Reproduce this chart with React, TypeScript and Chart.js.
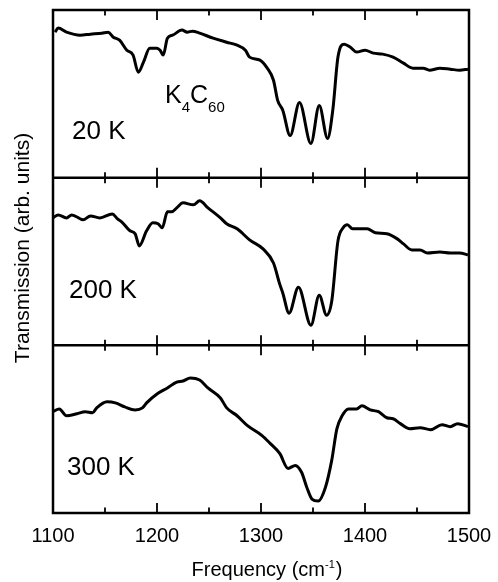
import React, { useEffect, useRef } from "react";
import { Chart, registerables } from "chart.js";

Chart.register(...registerables);

// ---- Data (frequency in cm^-1, transmission in arb. units, panel-local 0..1) ----
const FREQ_20K = [1102, 1105, 1113, 1126, 1136, 1147, 1153, 1158, 1164, 1171, 1177, 1182, 1187, 1193, 1200, 1203, 1206, 1210, 1215, 1224, 1229, 1234, 1241, 1254, 1267, 1277, 1285, 1289, 1299, 1306, 1312, 1316, 1321, 1328, 1337, 1348, 1356, 1364, 1369, 1374, 1380, 1386, 1392, 1400, 1408, 1417, 1427, 1437, 1446, 1456, 1462, 1472, 1482, 1491, 1499];
const T_20K = [0.868, 0.892, 0.868, 0.85, 0.856, 0.862, 0.868, 0.838, 0.82, 0.76, 0.731, 0.629, 0.689, 0.772, 0.772, 0.76, 0.731, 0.832, 0.85, 0.88, 0.868, 0.874, 0.862, 0.832, 0.808, 0.79, 0.76, 0.719, 0.701, 0.653, 0.581, 0.461, 0.401, 0.251, 0.449, 0.204, 0.431, 0.234, 0.401, 0.719, 0.796, 0.778, 0.749, 0.76, 0.743, 0.737, 0.719, 0.683, 0.653, 0.653, 0.641, 0.653, 0.647, 0.641, 0.647];

const FREQ_200K = [1100, 1105, 1113, 1118, 1129, 1136, 1145, 1157, 1162, 1166, 1174, 1179, 1183, 1190, 1196, 1201, 1205, 1210, 1214, 1219, 1225, 1235, 1241, 1249, 1261, 1267, 1277, 1289, 1302, 1312, 1318, 1321, 1327, 1336, 1348, 1356, 1363, 1368, 1374, 1379, 1383, 1388, 1402, 1410, 1421, 1431, 1437, 1445, 1453, 1460, 1472, 1482, 1491, 1499];
const T_200K = [0.76, 0.778, 0.76, 0.778, 0.749, 0.772, 0.76, 0.784, 0.754, 0.737, 0.683, 0.665, 0.593, 0.683, 0.731, 0.725, 0.701, 0.796, 0.796, 0.82, 0.85, 0.838, 0.862, 0.82, 0.76, 0.725, 0.695, 0.629, 0.575, 0.491, 0.365, 0.311, 0.192, 0.347, 0.12, 0.299, 0.18, 0.263, 0.623, 0.701, 0.719, 0.695, 0.695, 0.671, 0.665, 0.635, 0.605, 0.569, 0.569, 0.551, 0.557, 0.551, 0.551, 0.539];

const FREQ_300K = [1100, 1106, 1113, 1123, 1131, 1138, 1142, 1152, 1160, 1169, 1179, 1186, 1190, 1200, 1210, 1219, 1225, 1232, 1241, 1249, 1261, 1267, 1277, 1287, 1301, 1309, 1318, 1326, 1333, 1339, 1344, 1349, 1355, 1362, 1368, 1373, 1378, 1384, 1392, 1397, 1405, 1413, 1421, 1427, 1434, 1443, 1453, 1463, 1474, 1482, 1489, 1499];
const T_300K = [0.604, 0.621, 0.58, 0.592, 0.604, 0.598, 0.627, 0.663, 0.657, 0.633, 0.615, 0.627, 0.657, 0.71, 0.746, 0.781, 0.787, 0.805, 0.793, 0.746, 0.686, 0.627, 0.58, 0.521, 0.462, 0.414, 0.355, 0.266, 0.284, 0.243, 0.154, 0.083, 0.071, 0.154, 0.314, 0.503, 0.58, 0.621, 0.621, 0.639, 0.615, 0.604, 0.568, 0.562, 0.533, 0.503, 0.509, 0.497, 0.527, 0.515, 0.533, 0.515];

const X_TICKS = [1100, 1200, 1300, 1400, 1500];
const PANEL_LABELS = ["20 K", "200 K", "300 K"];
const X_TITLE = "Frequency (cm";
const X_TITLE_SUP = "-1";
const Y_TITLE = "Transmission (arb. units)";

const FONT = "'Liberation Sans', Arial, Helvetica, sans-serif";

const PANELS = [
  { freq: FREQ_20K, t: T_20K },
  { freq: FREQ_200K, t: T_200K },
  { freq: FREQ_300K, t: T_300K },
];

const framePlugin = {
  id: "panelFrame",
  afterDraw(chart: any) {
    const { ctx, chartArea } = chart;
    const xs = chart.scales.x;
    const ys = chart.scales.y;
    const { left, right, top, bottom } = chartArea;
    ctx.save();
    ctx.strokeStyle = "#000";
    ctx.fillStyle = "#000";
    // frame
    ctx.lineWidth = 2.5;
    ctx.strokeRect(left, top, right - left, bottom - top);
    const seps = [2, 1].map((v) => ys.getPixelForValue(v));
    ctx.beginPath();
    seps.forEach((y) => {
      ctx.moveTo(left, y);
      ctx.lineTo(right, y);
    });
    ctx.stroke();
    // ticks (major at labelled values, minor halfway)
    const minor: number[] = [];
    for (let i = 0; i < X_TICKS.length - 1; i++) minor.push((X_TICKS[i] + X_TICKS[i + 1]) / 2);
    ctx.lineWidth = 1.8;
    const lines = [top, ...seps, bottom];
    ctx.beginPath();
    const drawTicks = (vals: number[], len: number) => {
      vals.forEach((v) => {
        const x = xs.getPixelForValue(v);
        lines.forEach((y, i) => {
          if (i < lines.length - 1) {
            ctx.moveTo(x, y);
            ctx.lineTo(x, y + len);
          }
          if (i > 0) {
            ctx.moveTo(x, y);
            ctx.lineTo(x, y - len);
          }
        });
      });
    };
    drawTicks(X_TICKS, 10);
    drawTicks(minor, 5.5);
    ctx.stroke();

    // panel labels
    ctx.textBaseline = "alphabetic";
    ctx.textAlign = "left";
    ctx.font = `26px ${FONT}`;
    const labelDx = [19, 16, 14];
    const labelDy = [129, 120, 130];
    PANEL_LABELS.forEach((lab, i) => {
      const pt = ys.getPixelForValue(3 - i);
      ctx.fillText(lab, left + labelDx[i], pt + labelDy[i]);
    });

    // compound label K4C60
    let cx = left + 112;
    const cy = top + 93;
    const subY = cy + 9;
    const parts: [string, boolean][] = [["K", false], ["4", true], ["C", false], ["60", true]];
    parts.forEach(([s, sub]) => {
      ctx.font = sub ? `15px ${FONT}` : `25px ${FONT}`;
      ctx.fillText(s, cx, sub ? subY : cy);
      cx += ctx.measureText(s).width;
    });

    // x title with superscript
    const baseY = bottom + 63;
    ctx.font = `20px ${FONT}`;
    const w1 = ctx.measureText(X_TITLE).width;
    const w3 = ctx.measureText(")").width;
    ctx.font = `11px ${FONT}`;
    const w2 = ctx.measureText(X_TITLE_SUP).width;
    const total = w1 + w2 + w3 + 1;
    let tx = (left + right) / 2 - total / 2 + 6;
    ctx.font = `20px ${FONT}`;
    ctx.fillText(X_TITLE, tx, baseY);
    tx += w1;
    ctx.font = `11px ${FONT}`;
    ctx.fillText(X_TITLE_SUP, tx, baseY - 8);
    tx += w2 + 1;
    ctx.font = `20px ${FONT}`;
    ctx.fillText(")", tx, baseY);

    // y title
    ctx.save();
    ctx.translate(29, 248);
    ctx.rotate(-Math.PI / 2);
    ctx.textAlign = "center";
    ctx.font = `21px ${FONT}`;
    ctx.fillText(Y_TITLE, 0, 0);
    ctx.restore();

    ctx.restore();
  },
};

export default function App() {
  const ref = useRef<HTMLCanvasElement | null>(null);
  useEffect(() => {
    if (!ref.current) return;
    const datasets = PANELS.map((p, i) => ({
      label: PANEL_LABELS[i],
      data: p.freq.map((f, j) => ({ x: f, y: p.t[j] + (2 - i) })),
      borderColor: "#000",
      borderWidth: 3,
      pointRadius: 0,
      fill: false,
      cubicInterpolationMode: "monotone" as const,
    }));
    const chart = new Chart(ref.current, {
      type: "line",
      data: { datasets },
      options: {
        animation: false,
        responsive: false,
        layout: { padding: { top: 10, right: 29, left: 0, bottom: 0 } },
        plugins: { legend: { display: false }, tooltip: { enabled: false } },
        scales: {
          x: {
            type: "linear",
            min: 1100,
            max: 1500,
            afterBuildTicks: (s: any) => {
              s.ticks = X_TICKS.map((v) => ({ value: v }));
            },
            afterFit: (s: any) => {
              s.height = 69;
            },
            grid: { display: false },
            border: { display: false },
            ticks: {
              color: "#000",
              font: { family: FONT, size: 20 },
              padding: 3,
              maxRotation: 0,
              callback: (v: any) => String(v),
            },
          },
          y: {
            type: "linear",
            min: 0,
            max: 3,
            afterFit: (s: any) => {
              s.width = 53;
            },
            grid: { display: false },
            border: { display: false },
            ticks: { display: false },
          },
        },
      },
      plugins: [framePlugin],
    });
    return () => chart.destroy();
  }, []);
  return (
    <div style={{ position: "absolute", left: 0, top: 0, width: 498, height: 582, background: "#fff" }}>
      <canvas ref={ref} width={498} height={582} />
    </div>
  );
}
